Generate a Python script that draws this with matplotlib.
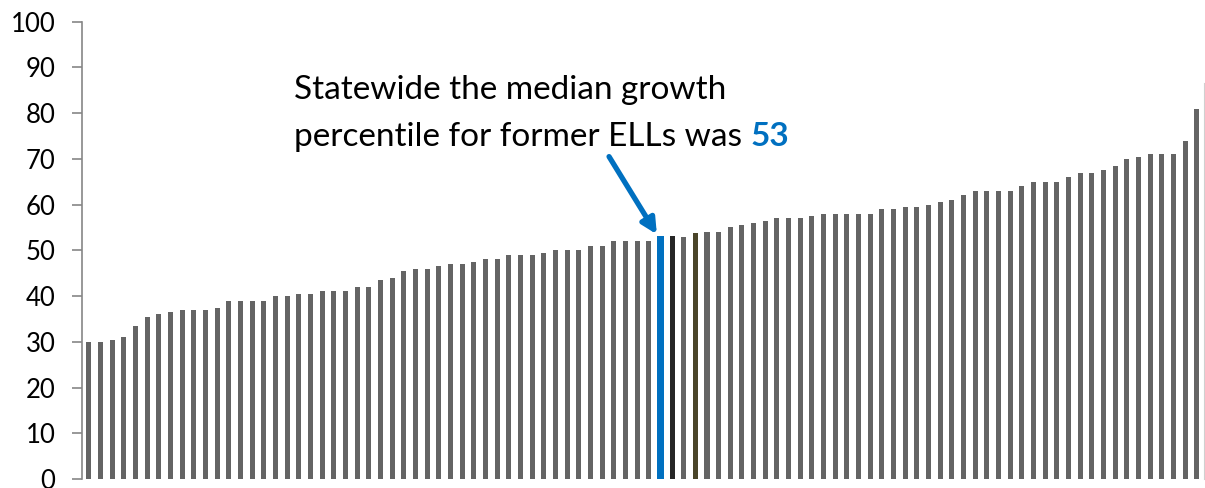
import matplotlib.pyplot as plt
import numpy as np

# median growth percentile per district, sorted
values = [30, 30, 30.5, 31, 33.5, 35.5, 36, 36.5, 37, 37, 37, 37.5,
          39, 39, 39, 39, 40, 40, 40.5, 40.5, 41, 41, 41, 42,
          42, 43.5, 44, 45.5, 46, 46, 46.5, 47, 47, 47.5, 48, 48,
          49, 49, 49, 49.5, 50, 50, 50, 51, 51, 52, 52, 52,
          52, 53.2, 53.2, 53, 53.7, 54, 54, 55, 55.5, 56, 56.5, 57,
          57, 57, 57.5, 58, 58, 58, 58, 58, 59, 59, 59.5, 59.5,
          60, 60.5, 61, 62, 63, 63, 63, 63, 64, 65, 65, 65,
          66, 67, 67, 67.5, 68.5, 70, 70.5, 71, 71, 71, 74, 81]
statewide_idx = 49
black_idx = 50
olive_idx = 52
yticks = list(range(0, 101, 10))

plt.rcParams['font.family'] = ['Lato', 'DejaVu Sans']

x = np.arange(len(values))
colors = ['#646464'] * len(values)
widths = [0.43] * len(values)
colors[statewide_idx] = '#0070C0'
widths[statewide_idx] = 0.58
colors[black_idx] = '#262626'
colors[olive_idx] = '#4A4529'

fig = plt.figure(figsize=(12.05, 4.88), dpi=100)
ax = fig.add_axes([0.068, 0.0185, 0.931, 0.937])
ax.bar(x, values, width=widths, color=colors)

ax.set_xlim(-0.6, 95.6)
ax.set_ylim(0, 100)
ax.set_yticks(yticks)
ax.set_xticks([])
for s in ['top', 'bottom']:
    ax.spines[s].set_visible(False)
ax.spines['left'].set_color('#868686')
ax.spines['left'].set_linewidth(1.2)
ax.spines['right'].set_color('#d0d0d0')
ax.spines['right'].set_bounds(0, 86.5)
ax.tick_params(axis='y', length=7, width=1.2, color='#868686',
               labelsize=18.5, labelcolor='black', pad=12)

ax.text(17.6, 83, "Statewide the median growth", fontsize=24,
        ha='left', va='baseline')
ax.text(17.6, 72.8, "percentile for former ELLs was ", fontsize=24,
        ha='left', va='baseline')
ax.annotate("", xy=(statewide_idx - 0.3, values[statewide_idx] + 0.3),
            xytext=(44.6, 70.5),
            arrowprops=dict(arrowstyle='-|>,head_length=0.9,head_width=0.45',
                            color='#0070C0', lw=3.8, shrinkA=0, shrinkB=0))

fig.canvas.draw()
t = ax.texts[1]
bb = t.get_window_extent()
x_end = ax.transData.inverted().transform((bb.x1, bb.y0))[0]
ax.text(x_end, 72.8, "53", fontsize=24, color='#0070C0', fontweight='bold',
        ha='left', va='baseline')

fig.savefig('out.png', dpi=100)
